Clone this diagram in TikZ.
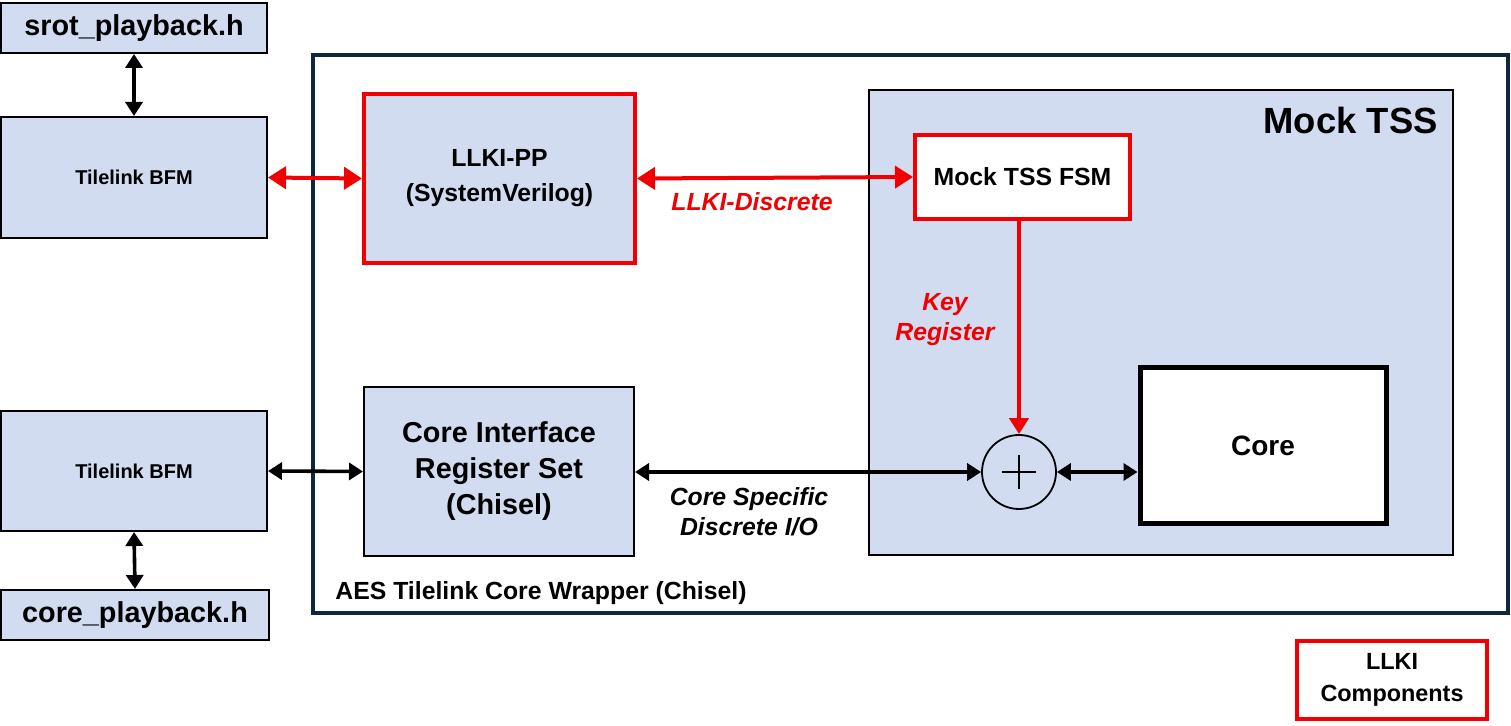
\documentclass[tikz,border=0pt]{standalone}
\usepackage{fontspec}
\setmainfont{Liberation Sans}
\usetikzlibrary{arrows.meta}
\definecolor{lblue}{RGB}{209,220,241}
\definecolor{lred}{RGB}{240,0,0}
\definecolor{navy}{RGB}{14,38,64}
\tikzset{
  bbox/.style={draw=black, line width=1pt, fill=lblue, inner sep=0pt, align=center, font=\bfseries},
  rbox/.style={draw=lred, line width=2pt, inner sep=0pt, align=center, font=\bfseries},
  barrow/.style={line width=1.8pt, {Triangle[length=7pt,width=8.5pt]}-{Triangle[length=7pt,width=8.5pt]}},
  rarrow/.style={draw=lred, line width=2pt, {Triangle[length=9pt,width=11pt]}-{Triangle[length=9pt,width=11pt]}},
  rlabel/.style={text=lred, font=\bfseries\itshape\fontsize{12.4}{15}\selectfont, align=center},
  klabel/.style={text=black, font=\bfseries\itshape\fontsize{12.4}{15}\selectfont, align=center}
}
\begin{document}
\begin{tikzpicture}[x=0.5pt,y=-0.5pt]
\useasboundingbox (0,0) rectangle (1511,726);
% wrapper
\node[draw=navy, line width=2pt, minimum width=597.5pt, minimum height=279pt, inner sep=0pt] (wrap) at (910.5,334) {};
\node[anchor=west, inner sep=0pt, font=\bfseries\fontsize{12.4}{15}\selectfont] (wraplbl) at (335,593) {AES Tilelink Core Wrapper (Chisel)};
% mock tss
\node[bbox, minimum width=292pt, minimum height=232.5pt] (mock) at (1161,322.5) {};
\node[anchor=east, inner sep=0pt, font=\bfseries\fontsize{18.2}{22}\selectfont] (mocklbl) at (1438,120) {Mock TSS};
% left boxes
\node[bbox, minimum width=133pt, minimum height=25pt, font=\bfseries\fontsize{14.4}{17}\selectfont] (srot) at (134,28) {srot\_playback.h};
\node[bbox, minimum width=133pt, minimum height=60.5pt, font=\bfseries\fontsize{10}{12}\selectfont] (tl1) at (134,177.5) {Tilelink BFM};
\node[bbox, minimum width=133pt, minimum height=60pt, font=\bfseries\fontsize{10}{12}\selectfont] (tl2) at (134,471) {Tilelink BFM};
\node[bbox, minimum width=134pt, minimum height=25pt, font=\bfseries\fontsize{14.4}{17}\selectfont] (corepb) at (135,615) {core\_playback.h};
% inner boxes
\node[rbox, fill=lblue, minimum width=135.5pt, minimum height=84.5pt, font=\bfseries\fontsize{12.4}{17.5}\selectfont] (llkipp) at (499.5,178.5) {LLKI-PP\\(SystemVerilog)};
\node[bbox, minimum width=135pt, minimum height=84.5pt, font=\bfseries\fontsize{14.4}{18}\selectfont] (cirs) at (499,471.5) {Core Interface\\Register Set\\(Chisel)};
\node[rbox, fill=white, minimum width=107.5pt, minimum height=42pt, font=\bfseries\fontsize{12.4}{15}\selectfont] (fsm) at (1022.5,177) {Mock TSS FSM};
\node[draw=black, line width=0.9pt, fill=lblue, circle, minimum size=37pt, inner sep=0pt] (sum) at (1019,472) {};
\draw[line width=0.9pt] (1002,472) -- (1036,472) (1019,455) -- (1019,489);
\node[draw=black, line width=2.5pt, fill=white, minimum width=123pt, minimum height=78pt, inner sep=0pt, font=\bfseries\fontsize{14}{17}\selectfont] (core) at (1263,446) {Core};
% legend
\node[rbox, fill=white, minimum width=95pt, minimum height=39pt, font=\bfseries\fontsize{11.7}{16}\selectfont] (legend) at (1392,680) {LLKI\\Components};
% connectors
\draw[barrow] (srot.south) -- (tl1.north);
\draw[barrow] (tl2.south) -- (corepb.north);
\draw[rarrow] (tl1.east) -- (llkipp.west);
\draw[rarrow] (llkipp.east) -- (fsm.west);
\draw[draw=lred, line width=2pt, -{Triangle[length=8pt,width=9.5pt]}] (fsm.south -| sum.north) -- (sum.north);
\draw[barrow] (tl2.east) -- (cirs.west);
\draw[barrow] (cirs.east |- sum.west) -- (sum.west);
\draw[barrow] (sum.east) -- (sum.east -| core.west);
% labels
\node[rlabel] (ld) at (752,202) {LLKI-Discrete};
\node[rlabel] (kr) at (945,320) {Key\\Register};
\node[klabel] (cs) at (749,512) {Core Specific\\Discrete I/O};
\end{tikzpicture}
\end{document}
